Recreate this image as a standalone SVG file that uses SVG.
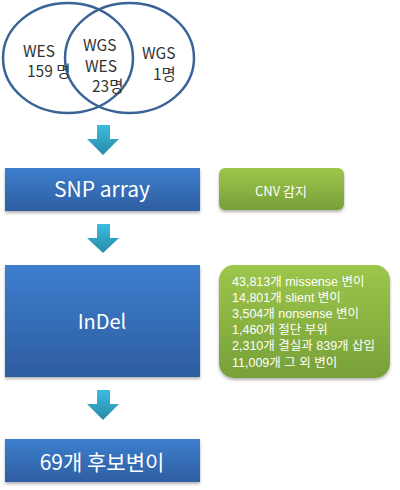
<svg xmlns="http://www.w3.org/2000/svg" width="400" height="490" viewBox="0 0 400 490">
<style>
.vt{font-family:"Noto Sans CJK KR","Liberation Sans",sans-serif;font-size:15.5px;fill:#333;}
.bt{font-family:"Noto Sans CJK KR","Liberation Sans",sans-serif;fill:#fff;text-anchor:middle;}
.gt{font-family:"Liberation Sans","Noto Sans CJK KR",sans-serif;fill:#fff;font-size:12.5px;}
.blue{fill:url(#gb);filter:url(#sh);}
.green{fill:url(#gg);filter:url(#sh);}
.arr{fill:url(#ga);}
.ven{fill:none;stroke:#3a6496;stroke-width:2.5;}
</style>
<defs>
<linearGradient id="gb" x1="0" y1="0" x2="0" y2="1"><stop offset="0" stop-color="#3d7ece"/><stop offset="1" stop-color="#2e5ea1"/></linearGradient>
<linearGradient id="gg" x1="0" y1="0" x2="0" y2="1"><stop offset="0" stop-color="#9dc64b"/><stop offset="1" stop-color="#77a039"/></linearGradient>
<linearGradient id="ga" x1="0" y1="0" x2="0" y2="1"><stop offset="0" stop-color="#3bbcdf"/><stop offset="1" stop-color="#2a8aa7"/></linearGradient>
<filter id="sh" x="-10%" y="-10%" width="120%" height="130%"><feDropShadow dx="0" dy="2" stdDeviation="1.5" flood-color="#000" flood-opacity="0.3"/></filter>
</defs>
<g id="venn">
<ellipse class="ven" cx="68" cy="58" rx="65" ry="55"/>
<ellipse class="ven" cx="129.5" cy="58" rx="64.5" ry="55"/>
<text class="vt" x="23" y="57">WES</text>
<text class="vt" x="27" y="77">159 명</text>
<text class="vt" x="83" y="51">WGS</text>
<text class="vt" x="85" y="72">WES</text>
<text class="vt" x="92" y="92">23명</text>
<text class="vt" x="142" y="59">WGS</text>
<text class="vt" x="153" y="80">1명</text>
</g>
<g id="connectors">
<polygon class="arr" points="97,125 110,125 110,139 119,139 103,155 87,139 97,139"/>
<polygon class="arr" points="97,224 110,224 110,238 119,238 103,253 87,238 97,238"/>
<polygon class="arr" points="97,390 110,390 110,404 119,404 103,420 87,404 97,404"/>
</g>
<g id="snp">
<rect class="blue" x="5" y="168" width="195" height="43"/>
<text class="bt" x="102" y="197" font-size="21">SNP array</text>
</g>
<g id="cnv">
<rect class="green" x="219" y="168" width="125" height="42" rx="6"/>
<text class="bt" x="281" y="196" font-size="13">CNV 감지</text>
</g>
<g id="indel">
<rect class="blue" x="5" y="265" width="195" height="112"/>
<text class="bt" x="102" y="329" font-size="20">InDel</text>
</g>
<g id="variants">
<rect class="green" x="219" y="265" width="171" height="113" rx="15"/>
<text class="gt" x="232" y="286">43,813개 missense 변이</text>
<text class="gt" x="232" y="302">14,801개 slient 변이</text>
<text class="gt" x="232" y="318">3,504개 nonsense 변이</text>
<text class="gt" x="232" y="334">1,460개 절단 부위</text>
<text class="gt" x="232" y="350">2,310개 결실과 839개 삽입</text>
<text class="gt" x="232" y="367">11,009개 그 외 변이</text>
</g>
<g id="candidates">
<rect class="blue" x="5" y="439" width="195" height="43"/>
<text class="bt" x="102" y="470" font-size="21">69개 후보변이</text>
</g>
</svg>
